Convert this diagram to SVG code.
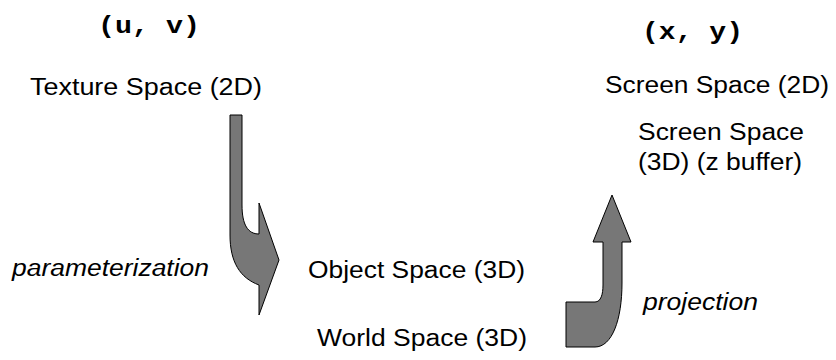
<svg xmlns="http://www.w3.org/2000/svg" width="836" height="360" viewBox="0 0 836 360">
<style>
.lbl{font-family:"Liberation Sans",Arial,sans-serif;font-size:23px;fill:#000}
.it{font-style:italic}
.mono{font-family:"Liberation Mono","Courier New",monospace;font-size:24px;font-weight:bold;fill:#000}
.arr{fill:#777777;stroke:#000;stroke-width:1}
</style>
<rect width="836" height="360" fill="#fff"/>
<g id="texture-space">
<text class="mono" x="98" y="33" textLength="102" lengthAdjust="spacingAndGlyphs">(u, v)</text>
<text class="lbl" x="30" y="95" textLength="232" lengthAdjust="spacingAndGlyphs">Texture Space (2D)</text>
</g>
<g id="screen-space-2d">
<text class="mono" x="642" y="39" textLength="101" lengthAdjust="spacingAndGlyphs">(x, y)</text>
<text class="lbl" x="605" y="93" textLength="224" lengthAdjust="spacingAndGlyphs">Screen Space (2D)</text>
</g>
<g id="screen-space-3d">
<text class="lbl" x="638" y="140" textLength="166" lengthAdjust="spacingAndGlyphs">Screen Space</text>
<text class="lbl" x="638" y="170" textLength="164" lengthAdjust="spacingAndGlyphs">(3D) (z buffer)</text>
</g>
<g id="object-space">
<text class="lbl" x="308" y="278" textLength="217" lengthAdjust="spacingAndGlyphs">Object Space (3D)</text>
</g>
<g id="world-space">
<text class="lbl" x="317" y="346" textLength="210" lengthAdjust="spacingAndGlyphs">World Space (3D)</text>
</g>
<g id="connectors">
<path class="arr" d="M230,115 L242,115 L242,205 C242,225 248,234 259,234 L259,203 L279,260 L259,315 L259,285 C240,278 230,262 230,235 Z"/>
<text class="lbl it" x="12" y="276" textLength="197" lengthAdjust="spacingAndGlyphs">parameterization</text>
<path class="arr" d="M612,195 L631,242 L622,242 L622,283 C622,320 612,347 595,347 L566,347 L566,302 L595,302 C601,302 603,294 603,285 L603,242 L593,242 Z"/>
<text class="lbl it" x="643" y="310" textLength="115" lengthAdjust="spacingAndGlyphs">projection</text>
</g>
</svg>
